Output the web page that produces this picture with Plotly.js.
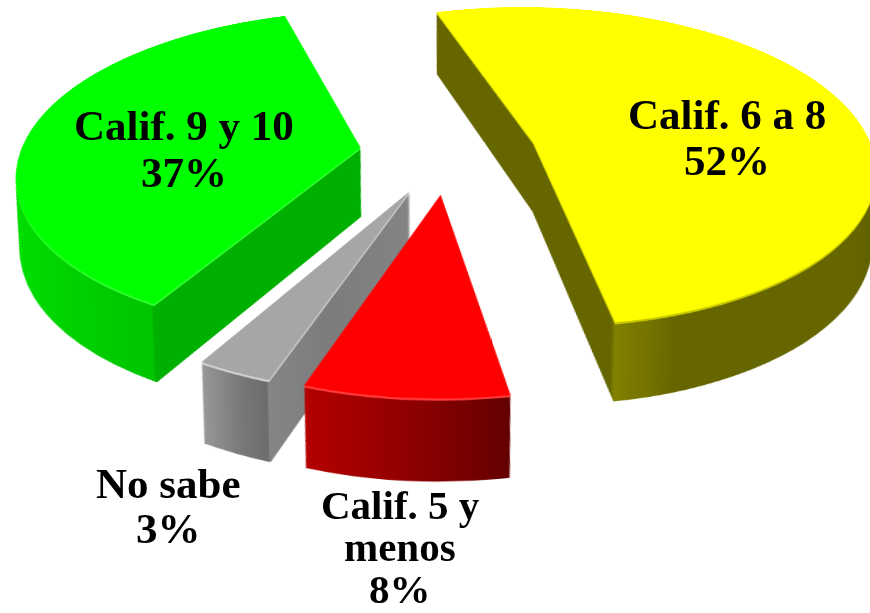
<!DOCTYPE html>
<html><head><meta charset="utf-8">
<script src="https://cdn.plot.ly/plotly-3.0.1.min.js"></script>
<style>
html,body{margin:0;padding:0;background:#fff;overflow:hidden}
#wrap{position:absolute;left:0;top:0;width:870px;height:613px;overflow:hidden;background:#fff}
#pie{position:absolute;left:-152px;top:-448px;width:1200px;height:1200px;transform-origin:600px 600px;transform:perspective(1997px) rotateX(62.2deg)}
#labels{position:absolute;left:0;top:0;width:870px;height:613px}
</style></head><body>
<div id="wrap"><div id="pie"></div><div id="labels"></div></div>
<script>
const categories = ['Calif. 6 a 8','Calif. 5 y menos','No sabe','Calif. 9 y 10'];
const values = [52,8,3,37];
const topColors = ['#ffff00','#ff0000','#a6a6a6','#00ff00'];
const bevelColors = ['#c8c800','#ff3838','#d0d0d0','#30ff30'];
const labelLines = [['Calif. 6 a 8','52%'],['Calif. 5 y','menos','8%'],['No sabe','3%'],['Calif. 9 y 10','37%']];
const labelX = [727,400,168,184];
const labelY = [[115,160],[505,547,589],[483,528],[125,172]];
const labelSize = [43,41,43,43];
const sideStops = [
 [[0,'#666600'],[0.353,'#666600'],[0.358,'#808000'],[0.42,'#757500'],[0.48,'#666600'],[0.9,'#666600'],[1,'#5c5c00']],
 [[0,'#b40000'],[0.5,'#900000'],[1,'#640000']],
 [[0,'#989898'],[0.2,'#787878'],[0.335,'#6c6c6c'],[0.34,'#858585'],[0.6,'#7c7c7c'],[1,'#848484']],
 [[0,'#00e000'],[0.495,'#00c400'],[0.5,'#00b000'],[1,'#00b000']]
];
const rotationDeg = 343, pullFrac = 0.26, radiusPx = 340, size = 1200, layers = 70, stepPx = 2.0, shrinkTotal = 0.07;

const half = radiusPx*(1+pullFrac)/size;
function pieTrace(k, colors){
  const shift = k*stepPx/size, h = half*(1-shrinkTotal*k/layers);
  return {type:'pie', labels:categories, values:values, sort:false, direction:'clockwise',
    rotation:rotationDeg, pull:pullFrac, textinfo:'none', hoverinfo:'skip', showlegend:false,
    marker:{colors:colors, line:{width:0}},
    domain:{x:[0.5-h,0.5+h], y:[0.5-h-shift,0.5+h-shift]}};
}
const traces = [];
for(let k=layers;k>=1;k--) traces.push(pieTrace(k, k<=2 ? bevelColors : sideStops.map(s=>s[s.length-1][1])));
traces.push(pieTrace(0, topColors));

const pieDiv = document.getElementById('pie');
Plotly.newPlot(pieDiv, traces, {width:size,height:size,margin:{l:0,r:0,t:0,b:0},paper_bgcolor:'rgba(0,0,0,0)',plot_bgcolor:'rgba(0,0,0,0)',showlegend:false},{displayModeBar:false,staticPlot:true}).then(()=>{
  const svg = pieDiv.querySelector('svg.main-svg');
  const NS='http://www.w3.org/2000/svg';
  const defs=document.createElementNS(NS,'defs');
  sideStops.forEach((st,i)=>{
    const g=document.createElementNS(NS,'linearGradient');
    g.setAttribute('id','side'+i);g.setAttribute('x1','0');g.setAttribute('x2','1');g.setAttribute('y1','0');g.setAttribute('y2','0');
    st.forEach(s=>{const e=document.createElementNS(NS,'stop');e.setAttribute('offset',s[0]);e.setAttribute('stop-color',s[1]);g.appendChild(e);});
    defs.appendChild(g);
  });
  svg.insertBefore(defs,svg.firstChild);
  const tr=pieDiv.querySelectorAll('.pielayer .trace');
  tr.forEach((t,idx)=>{
    if(idx>=layers-2) return;
    t.querySelectorAll('.slice path.surface').forEach((p,i)=>{p.style.fill='url(#side'+i+')';});
  });
});

const annotations=[];
labelLines.forEach((lines,i)=>lines.forEach((txt,j)=>annotations.push({
  xref:'paper',yref:'paper',x:labelX[i]/870,y:1-labelY[i][j]/613,xanchor:'center',yanchor:'middle',showarrow:false,
  text:txt,font:{family:'"Liberation Serif",serif',size:labelSize[i],color:'#000',weight:700}
})));
Plotly.newPlot('labels',[],{width:870,height:613,margin:{l:0,r:0,t:0,b:0},paper_bgcolor:'rgba(0,0,0,0)',plot_bgcolor:'rgba(0,0,0,0)',
  xaxis:{visible:false},yaxis:{visible:false},annotations:annotations},{displayModeBar:false,staticPlot:true});
</script></body></html>
